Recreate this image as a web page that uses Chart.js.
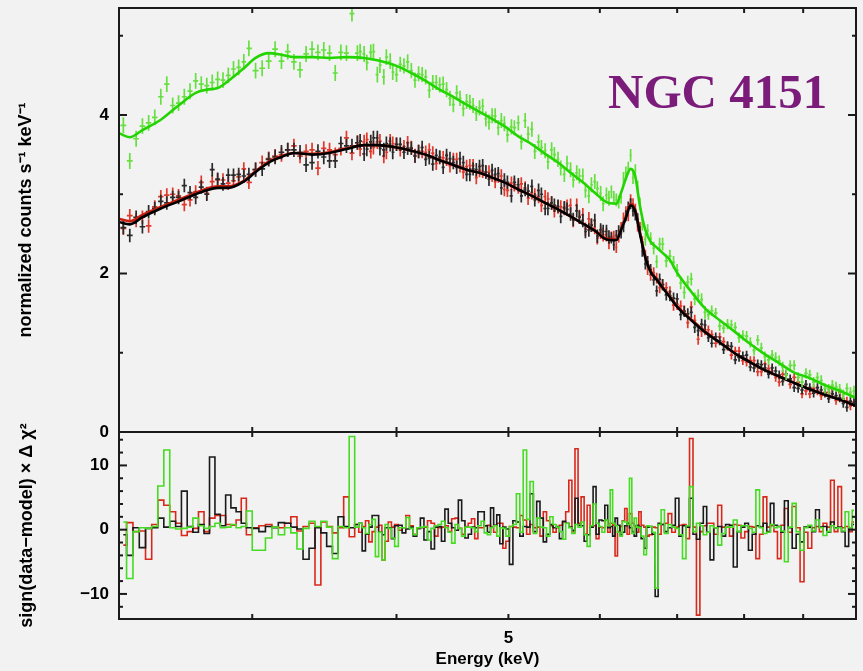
<!DOCTYPE html>
<html><head><meta charset="utf-8">
<script src="https://cdn.jsdelivr.net/npm/chart.js@4.4.1/dist/chart.umd.min.js"></script>
<style>
html,body{margin:0;padding:0;background:#f2f2f2;}
canvas{display:block;}
</style></head><body>
<canvas id="c" width="863" height="671"></canvas>
<script>
// ---- data (keV) : main bins ----
const energies = [2.32,2.35,2.38,2.41,2.44,2.47,2.50,2.53,2.56,2.59,
 2.62,2.65,2.68,2.71,2.74,2.77,2.80,2.83,2.86,2.89,
 2.92,2.95,2.98,3.02,3.06,3.10,3.14,3.18,3.22,3.26,
 3.30,3.34,3.38,3.42,3.46,3.50,3.54,3.58,3.62,3.66,
 3.70,3.75,3.80,3.85,3.90,3.95,4.00,4.06,4.12,4.18,
 4.24,4.30,4.36,4.42,4.48,4.54,4.60,4.66,4.72,4.78,
 4.84,4.90,4.96,5.03,5.10,5.17,5.24,5.31,5.38,5.45,
 5.52,5.59,5.66,5.73,5.80,5.87,5.94,6.01,6.08,6.14,
 6.20,6.26,6.32,6.38,6.44,6.50,6.57,6.64,6.72,6.80,
 6.90,7.00,7.10,7.20,7.30,7.40,7.50,7.62,7.74,7.86,
 7.98,8.10,8.22,8.34,8.46,8.58,8.70,8.84,8.98,9.12,
 9.26,9.40,9.54,9.68,9.82,9.96];

const blackCounts = [2.58,2.48,2.71,2.59,2.78,2.82,2.91,2.89,2.96,2.96,
 3.11,3.02,2.96,3.09,3.00,3.31,3.19,3.13,3.24,3.24,
 3.25,3.23,3.25,3.31,3.32,3.44,3.47,3.53,3.56,3.56,
 3.53,3.37,3.40,3.54,3.47,3.42,3.42,3.64,3.61,3.61,
 3.65,3.51,3.66,3.71,3.56,3.63,3.63,3.53,3.58,3.54,
 3.44,3.38,3.47,3.49,3.40,3.45,3.25,3.32,3.35,3.28,
 3.30,3.26,3.18,2.98,3.12,3.06,3.10,3.05,2.82,2.89,
 2.85,2.83,2.75,2.79,2.67,2.55,2.67,2.55,2.53,2.45,
 2.48,2.51,2.73,2.88,2.74,2.53,2.12,2.05,1.78,1.86,
 1.72,1.68,1.52,1.51,1.28,1.35,1.12,1.15,1.09,0.91,
 0.96,0.82,0.86,0.81,0.81,0.72,0.73,0.56,0.53,0.56,
 0.56,0.49,0.48,0.43,0.31,0.37];

const redCounts = [2.57,2.73,2.67,2.71,2.60,2.84,2.97,2.99,3.00,2.98,
 2.87,2.93,3.03,3.15,3.01,3.16,3.18,3.18,3.14,3.17,
 3.22,3.32,3.15,3.31,3.40,3.45,3.48,3.50,3.56,3.61,
 3.48,3.54,3.56,3.33,3.58,3.56,3.50,3.58,3.71,3.52,
 3.65,3.66,3.54,3.66,3.48,3.67,3.63,3.60,3.59,3.54,
 3.53,3.52,3.46,3.44,3.44,3.36,3.35,3.36,3.30,3.28,
 3.24,3.23,3.06,3.14,3.09,3.08,3.02,2.97,2.97,2.89,
 2.84,2.82,2.86,2.86,2.74,2.69,2.58,2.52,2.49,2.46,
 2.33,2.58,2.78,2.93,2.81,2.58,2.23,1.98,1.94,1.86,
 1.77,1.61,1.53,1.58,1.17,1.29,1.23,1.20,1.08,1.02,
 0.90,0.90,0.76,0.86,0.77,0.63,0.72,0.69,0.48,0.48,
 0.52,0.50,0.54,0.50,0.39,0.38];

const greenCounts = [3.87,3.42,3.70,3.86,3.90,3.97,4.23,4.39,4.12,4.15,
 4.23,4.30,4.43,4.39,4.37,4.41,4.45,4.44,4.50,4.58,
 4.60,4.67,4.84,4.56,4.59,4.68,4.83,4.68,4.80,4.67,
 4.57,4.77,4.83,4.79,4.82,4.78,4.53,4.79,4.78,5.28,
 4.78,4.77,4.79,4.51,4.48,4.68,4.51,4.62,4.56,4.52,
 4.48,4.41,4.38,4.32,4.13,4.21,4.17,4.12,4.09,3.95,
 3.99,3.84,3.89,3.85,3.90,3.93,3.82,3.66,3.55,3.56,
 3.44,3.25,3.31,3.27,3.23,2.98,3.16,3.01,2.99,3.03,
 2.93,2.96,3.27,3.49,3.30,2.88,2.43,2.44,2.15,2.37,
 2.22,2.04,1.76,1.93,1.72,1.51,1.53,1.34,1.36,1.32,
 1.22,1.13,1.16,0.95,0.97,0.90,0.72,0.84,0.63,0.72,
 0.69,0.55,0.59,0.54,0.55,0.52];

const blackResid = [-0.8,-4.0,0.3,-2.8,0.2,0.3,1.8,0.4,1.3,0.5,
 6.0,0.5,-0.4,0.8,-0.6,11.3,2.4,0.6,5.4,3.4,
 2.8,1.0,0.3,0.2,-0.3,0.5,0.3,1.1,1.0,0.4,
 0.1,-4.6,-2.9,0.3,-0.5,-2.6,-3.7,2.0,0.5,0.3,
 0.8,-3.3,0.4,2.2,-0.8,0.3,0.6,-0.5,0.4,0.2,
 -1.6,-3.0,0.5,3.2,0.3,4.6,-1.3,0.4,2.8,0.6,
 3.4,2.3,0.4,-5.4,1.2,0.5,5.6,4.4,-1.9,0.8,
 0.5,1.3,0.4,4.9,0.6,-0.8,6.7,1.5,3.8,0.5,
 1.8,-0.8,0.6,0.3,-1.0,0.4,-2.9,0.5,-10.4,0.8,
 0.3,4.9,0.6,4.9,-1.5,3.6,-4.7,0.5,0.8,-5.8,
 0.4,-3.2,0.6,1.0,4.1,0.5,4.5,-2.9,-1.9,0.4,
 3.1,0.5,1.2,0.4,-2.6,0.8];

const redResid = [-2.4,1.1,-0.3,-0.2,-4.6,0.8,4.6,3.8,2.8,1.0,
 -0.9,-0.3,0.2,2.8,-0.3,1.8,2.2,2.2,0.8,0.7,
 1.5,4.9,-0.8,0.3,0.6,0.8,0.4,0.3,1.0,2.0,
 -0.2,0.5,1.0,-8.6,1.2,0.5,-0.5,0.3,5.1,-1.1,
 0.8,0.5,-1.9,0.4,-4.7,1.2,0.8,0.3,0.6,0.2,
 0.4,1.0,0.3,0.6,1.7,0.2,0.5,1.7,0.3,0.6,
 0.4,1.0,-2.9,0.5,0.3,1.5,0.8,0.4,2.8,0.6,
 0.3,1.2,7.7,12.6,5.1,3.8,0.6,0.4,1.5,1.0,
 -4.1,0.5,3.3,2.5,0.6,2.8,0.4,-0.8,0.3,0.8,
 2.5,0.4,0.8,14.2,-13.3,0.6,1.0,3.8,0.4,0.8,
 -1.3,0.5,-4.5,5.1,0.6,-4.5,3.3,3.6,-8.1,-2.9,
 0.5,1.0,7.7,6.7,0.5,1.2];

const greenResid = [1.2,-7.6,-0.3,0.3,0.2,0.5,6.8,12.4,0.3,0.1,
 0.2,0.4,1.8,0.6,0.2,0.5,1.0,0.3,0.4,0.8,
 0.3,0.5,2.9,-3.2,-3.2,-1.3,0.4,-0.8,0.3,-0.5,
 -3.0,0.2,1.3,0.5,1.3,0.4,-4.5,0.5,0.3,14.5,
 0.4,0.3,0.8,-4.2,-4.7,0.2,-2.6,0.3,0.2,0.3,
 0.5,0.2,0.8,0.3,-2.1,0.2,0.4,0.3,0.6,-0.5,
 0.3,-1.0,0.2,0.5,5.6,12.4,7.5,1.8,0.3,2.0,
 0.4,-1.5,0.3,0.8,1.2,-2.6,4.0,0.5,1.5,6.2,
 0.6,-1.0,1.2,8.0,1.8,0.3,-3.9,0.5,-9.1,3.1,
 0.8,0.2,-4.5,6.7,1.0,-0.8,0.6,-2.4,0.4,1.5,
 0.6,0.2,6.2,-0.6,0.8,0.5,-5.0,4.1,-3.2,0.7,
 1.5,-0.9,0.6,0.3,2.8,3.0];

// ---- narrower bins above 3.7 keV (interleaved) ----
const energiesFine = [3.72,3.77,3.82,3.87,3.92,3.97,4.03,4.09,4.15,4.21,
 4.27,4.33,4.39,4.45,4.51,4.57,4.63,4.69,4.75,4.81,
 4.87,4.93,4.99,5.06,5.13,5.20,5.27,5.34,5.41,5.48,
 5.55,5.62,5.69,5.76,5.83,5.90,5.97,6.04,6.11,6.17,
 6.23,6.29,6.35,6.41,6.47,6.53,6.60,6.68,6.76,6.85,
 6.95,7.05,7.15,7.25,7.35,7.45,7.56,7.68,7.80,7.92,
 8.04,8.16,8.28,8.40,8.52,8.64,8.77,8.91,9.05,9.19,
 9.33,9.47,9.61,9.75,9.89];
const blackCountsFine = [3.67,3.57,3.71,3.58,3.64,3.53,3.63,3.58,3.48,3.59,
 3.46,3.49,3.34,3.45,3.34,3.40,3.25,3.31,3.36,3.19,
 3.25,3.08,3.15,3.15,2.98,3.04,2.93,3.00,2.82,2.86,
 2.72,2.81,2.68,2.71,2.53,2.61,2.47,2.53,2.46,2.36,
 2.54,2.59,2.84,2.79,2.69,2.28,2.15,1.92,1.93,1.73,
 1.69,1.48,1.49,1.32,1.36,1.19,1.20,1.04,1.08,0.94,
 0.97,0.81,0.85,0.73,0.77,0.64,0.67,0.55,0.60,0.49,
 0.53,0.42,0.46,0.36,0.39];
const redCountsFine = [3.57,3.69,3.59,3.67,3.53,3.64,3.56,3.65,3.49,3.54,
 3.56,3.39,3.46,3.36,3.44,3.28,3.36,3.21,3.29,3.28,
 3.16,3.23,3.05,3.12,3.13,2.95,2.99,2.86,2.94,2.79,
 2.84,2.85,2.67,2.72,2.56,2.61,2.45,2.49,2.39,2.47,
 2.46,2.70,2.73,2.88,2.60,2.40,2.05,2.01,1.82,1.82,
 1.60,1.59,1.38,1.41,1.27,1.29,1.12,1.14,0.97,1.02,
 0.88,0.90,0.76,0.80,0.69,0.73,0.60,0.63,0.52,0.55,
 0.46,0.50,0.40,0.42,0.33];
const greenCountsFine = [4.80,4.66,4.80,4.63,4.73,4.54,4.64,4.67,4.44,4.51,
 4.31,4.41,4.39,4.21,4.28,4.08,4.16,4.02,4.11,3.91,
 3.99,3.93,3.75,3.84,3.66,3.76,3.54,3.59,3.41,3.50,
 3.33,3.39,3.18,3.23,3.05,3.12,3.07,2.88,2.95,2.96,
 2.90,3.20,3.33,3.21,3.09,2.62,2.54,2.32,2.37,2.16,
 2.14,1.88,1.89,1.68,1.67,1.48,1.50,1.31,1.35,1.19,
 1.21,1.03,1.06,0.91,0.94,0.82,0.84,0.69,0.74,0.63,
 0.65,0.54,0.57,0.47,0.50];
const blackResidFine = [1.0,-0.7,2.2,-0.4,0.3,-1.4,0.7,0.1,-1.0,1.8,
 -0.3,0.4,-1.8,1.0,-0.1,1.4,-0.7,0.3,2.8,-0.4,
 0.7,-2.2,0.1,1.4,-1.0,0.4,-0.3,1.8,-0.7,0.3,
 -1.4,1.0,-0.1,0.7,-1.8,0.4,-0.7,1.4,0.3,-1.0,
 0.7,-0.4,1.0,-0.3,0.7,-1.4,0.4,-0.7,1.0,-0.3,
 0.7,-1.0,0.4,-0.7,1.0,-0.4,0.3,-1.0,0.7,-0.3,
 1.0,-0.7,0.4,-0.3,0.7,-0.4,0.3,-0.7,0.4,-0.3,
 0.4,-0.4,0.3,-0.3,0.3];
const redResidFine = [-0.4,1.4,-0.3,0.7,-1.8,0.4,-0.1,2.2,-0.7,0.3,
 1.4,-1.0,0.4,-0.3,1.8,-0.7,1.0,-1.4,0.3,0.7,
 -0.4,1.0,-1.8,0.4,2.2,-0.7,0.3,-1.0,1.4,-0.4,
 0.7,2.8,-0.3,1.0,-0.7,0.4,-1.4,0.3,-0.4,0.7,
 -0.3,1.4,-0.7,1.0,-0.4,0.7,-1.0,0.4,-0.7,1.0,
 -0.4,0.7,-1.4,0.4,-0.3,1.0,-0.7,0.4,-1.0,0.7,
 -0.3,0.4,-0.7,0.4,-0.3,0.7,-0.4,0.3,-0.4,0.3,
 -0.3,0.4,-0.3,0.3,-0.3];
const greenResidFine = [1.0,-0.6,1.6,-0.4,0.8,-1.3,0.3,1.9,-0.8,0.4,
 -1.6,0.6,1.3,-0.4,0.8,-1.0,0.4,-0.3,1.3,-0.8,
 0.6,0.3,-1.0,0.8,-0.4,1.6,-0.6,0.4,-1.0,0.8,
 -0.3,1.0,-0.6,0.4,-0.8,0.6,1.0,-0.4,0.6,1.0,
 -0.4,1.3,0.8,-0.6,0.4,-1.0,0.6,-0.4,0.8,-0.6,
 0.4,-0.8,0.6,-0.3,0.6,-0.4,0.3,-0.6,0.4,-0.3,
 0.6,-0.4,0.3,-0.4,0.3,-0.2,0.4,-0.3,0.3,-0.2,
 0.3,-0.3,0.2,-0.2,0.3];

// error half-heights: [from energy keV, black/red, green]
const errSegments = [[2.3,0.085,0.1],[3.0,0.09,0.1],[4.0,0.085,0.095],[6.12,0.07,0.08],[7.45,0.055,0.065]];

// ---- model curves ----
const modelEnergies = [2.30,2.35,2.41,2.50,2.59,2.68,2.74,2.80,2.86,2.95,
 3.02,3.10,3.18,3.26,3.38,3.50,3.62,3.75,3.85,4.00,
 4.12,4.24,4.36,4.48,4.60,4.72,4.84,4.96,5.10,5.24,
 5.38,5.52,5.66,5.80,5.94,6.08,6.20,6.26,6.32,6.38,
 6.44,6.50,6.57,6.64,6.72,6.80,6.90,7.00,7.20,7.40,
 7.62,7.86,8.10,8.34,8.58,8.84,9.12,9.40,9.68,10.0];
const blackModel = [2.65,2.62,2.71,2.82,2.91,3.00,3.05,3.08,3.08,3.16,
 3.28,3.40,3.47,3.52,3.50,3.52,3.57,3.62,3.62,3.59,
 3.55,3.50,3.43,3.37,3.31,3.27,3.21,3.15,3.06,2.98,
 2.89,2.81,2.72,2.63,2.54,2.43,2.42,2.55,2.70,2.86,
 2.78,2.50,2.20,2.02,1.92,1.82,1.70,1.58,1.41,1.26,
 1.13,0.99,0.88,0.78,0.70,0.62,0.54,0.47,0.41,0.33];
const redModel = [2.69,2.66,2.74,2.84,2.93,3.02,3.07,3.10,3.10,3.17,
 3.29,3.41,3.48,3.52,3.51,3.53,3.58,3.62,3.62,3.59,
 3.55,3.50,3.43,3.37,3.31,3.27,3.21,3.15,3.06,2.98,
 2.89,2.81,2.72,2.63,2.54,2.44,2.43,2.56,2.72,2.88,
 2.80,2.52,2.21,2.03,1.93,1.83,1.71,1.59,1.42,1.27,
 1.13,0.99,0.88,0.78,0.70,0.62,0.54,0.47,0.41,0.33];
const greenModel = [3.77,3.72,3.81,3.94,4.12,4.28,4.32,4.34,4.43,4.59,
 4.72,4.78,4.76,4.73,4.73,4.72,4.73,4.72,4.69,4.62,
 4.53,4.43,4.32,4.23,4.13,4.04,3.95,3.86,3.73,3.63,
 3.51,3.40,3.27,3.15,3.02,2.90,2.88,3.02,3.20,3.32,
 3.22,2.85,2.55,2.40,2.33,2.26,2.17,2.01,1.77,1.56,
 1.41,1.26,1.11,0.98,0.87,0.75,0.68,0.59,0.52,0.43];

// ---- ticks ----
const xTicks = [3,4,5,6,7,8,9,10];
const xLabels = [5];
const topTicks = [0,1,2,3,4,5];
const topLabels = [0,2,4];
const resTicks = [-12,-10,-8,-6,-4,-2,0,2,4,6,8,10,12,14];
const resLabels = [-10,0,10];

// ---- build datasets ----
function merged(ea, va, eb, vb){
  return ea.map((x,i)=>({x, y:va[i]})).concat(eb.map((x,i)=>({x, y:vb[i]}))).sort((a,b)=>a.x-b.x);
}
function errFor(E, col){ let e = 0; for (const s of errSegments) if (E >= s[0]) e = s[col]; return e; }
function crosses(pts, col){
  const out = [], n = pts.length;
  for (let i = 0; i < n; i++){
    const E = pts[i].x, v = pts[i].y, e = errFor(E, col);
    const loEdge = i > 0 ? Math.sqrt(pts[i-1].x*E) : E*E/Math.sqrt(E*pts[i+1].x);
    const hiEdge = i < n-1 ? Math.sqrt(E*pts[i+1].x) : E*E/loEdge;
    const lo = E*Math.pow(loEdge/E, 0.9), hi = E*Math.pow(hiEdge/E, 0.9);
    out.push({x:E,y:v-e},{x:E,y:v+e},{x:E,y:null},{x:lo,y:v},{x:hi,y:v},{x:hi,y:null});
  }
  return out;
}
const pairs = (xs, ys) => xs.map((x,i)=>({x, y:ys[i]}));

const base = {type:'line', pointRadius:0, fill:false, spanGaps:false};
const datasets = [
  {...base, label:'green model', data:pairs(modelEnergies, greenModel), borderColor:'#22d400', borderWidth:2.6, cubicInterpolationMode:'monotone', yAxisID:'y', order:0},
  {...base, label:'green data', data:crosses(merged(energies, greenCounts, energiesFine, greenCountsFine),2), borderColor:'#66e040', borderWidth:1.7, yAxisID:'y', order:1},
  {...base, label:'black model', data:pairs(modelEnergies, blackModel), borderColor:'#000000', borderWidth:2.6, cubicInterpolationMode:'monotone', yAxisID:'y', order:2},
  {...base, label:'red model', data:pairs(modelEnergies, redModel), borderColor:'#c81e0f', borderWidth:2.6, cubicInterpolationMode:'monotone', yAxisID:'y', order:3},
  {...base, label:'black data', data:crosses(merged(energies, blackCounts, energiesFine, blackCountsFine),1), borderColor:'#2a2a2a', borderWidth:1.7, yAxisID:'y', order:4},
  {...base, label:'red data', data:crosses(merged(energies, redCounts, energiesFine, redCountsFine),1), borderColor:'#e0392b', borderWidth:1.7, yAxisID:'y', order:5},
  {...base, label:'green resid', data:merged(energies, greenResid, energiesFine, greenResidFine), borderColor:'#45dc22', borderWidth:1.6, stepped:'middle', yAxisID:'yr', order:6},
  {...base, label:'black resid', data:merged(energies, blackResid, energiesFine, blackResidFine), borderColor:'#1a1a1a', borderWidth:1.6, stepped:'middle', yAxisID:'yr', order:7},
  {...base, label:'red resid', data:merged(energies, redResid, energiesFine, redResidFine), borderColor:'#d9281a', borderWidth:1.6, stepped:'middle', yAxisID:'yr', order:8}
];

const FONT = "'Liberation Sans', Arial, Helvetica, sans-serif";
Chart.defaults.font.family = FONT;
Chart.defaults.color = '#000';

const framePlugin = {
  id: 'frame',
  afterDatasetsDraw(chart){
    const {ctx} = chart;
    const x = chart.scales.x;
    ctx.save();
    ctx.strokeStyle = '#1a1a1a';
    ctx.lineWidth = 2;
    const seg = (a,b,c,d) => { ctx.beginPath(); ctx.moveTo(a,b); ctx.lineTo(c,d); ctx.stroke(); };
    for (const ys of [chart.scales.y, chart.scales.yr]){
      ctx.strokeRect(x.left, ys.top, x.right - x.left, ys.bottom - ys.top);
      ys.ticks.forEach(t => {
        const py = ys.getPixelForValue(t.value);
        const len = t.label ? 8 : 4;
        seg(x.left, py, x.left + len, py);
        seg(x.right, py, x.right - len, py);
      });
      x.ticks.forEach(t => {
        const px = x.getPixelForValue(t.value);
        seg(px, ys.top, px, ys.top + 5);
        seg(px, ys.bottom, px, ys.bottom - 5);
      });
    }
    // object name
    ctx.font = "bold 49px 'Liberation Serif', 'Times New Roman', serif";
    ctx.fillStyle = '#7b1b7a';
    ctx.textBaseline = 'alphabetic';
    ctx.textAlign = 'left';
    ctx.fillText('NGC 4151', x.getPixelForValue(6.1), chart.scales.y.getPixelForValue(4.09));
    ctx.restore();
  }
};

const fitY = s => { s.width = 119; s.paddingTop = 0; s.paddingBottom = 0; };

new Chart(document.getElementById('c'), {
  type: 'line',
  data: {datasets},
  options: {
    responsive: false,
    animation: false,
    devicePixelRatio: 1,
    layout: {padding: {top: 8, right: 7, left: 0, bottom: 0}},
    plugins: {legend: {display: false}, tooltip: {enabled: false}},
    scales: {
      x: {
        type: 'logarithmic', min: 2.3, max: 10, position: 'bottom',
        grid: {display: false, drawTicks: false}, border: {display: false},
        afterBuildTicks: s => { s.ticks = xTicks.map(v => ({value: v})); },
        afterFit: s => { s.height = 52; s.paddingLeft = 0; s.paddingRight = 0; },
        ticks: {autoSkip: false, maxRotation: 0, padding: 9, font: {size: 17, weight: 'bold'},
          callback: v => xLabels.includes(v) ? String(v) : ''},
        title: {display: true, text: 'Energy (keV)', font: {size: 17, weight: 'bold'}, padding: {top: 0, bottom: 1}}
      },
      yr: {
        type: 'linear', min: -13.9, max: 15.2, position: 'left', stack: 'panels', stackWeight: 187, weight: 1,
        grid: {display: false, drawTicks: false}, border: {display: false},
        afterBuildTicks: s => { s.ticks = resTicks.map(v => ({value: v})); },
        afterFit: fitY,
        ticks: {autoSkip: false, padding: 10, font: {size: 17, weight: 'bold'},
          callback: v => resLabels.includes(v) ? String(v).replace('-', '\u2212') : ''},
        title: {display: true, text: 'sign(data\u2212model) \u00d7 \u0394 \u03c7\u00b2', font: {size: 18, weight: 'bold'}, padding: {top: 16, bottom: 0}}
      },
      y: {
        type: 'linear', min: 0, max: 5.35, position: 'left', stack: 'panels', stackWeight: 424, weight: 2,
        grid: {display: false, drawTicks: false}, border: {display: false},
        afterBuildTicks: s => { s.ticks = topTicks.map(v => ({value: v})); },
        afterFit: fitY,
        ticks: {autoSkip: false, padding: 10, font: {size: 17, weight: 'bold'},
          callback: v => topLabels.includes(v) ? String(v) : ''},
        title: {display: true, text: 'normalized counts s\u207b\u00b9 keV\u207b\u00b9', font: {size: 18, weight: 'bold'}, padding: {top: 15, bottom: 0}}
      }
    }
  },
  plugins: [framePlugin]
});
</script>
</body></html>
